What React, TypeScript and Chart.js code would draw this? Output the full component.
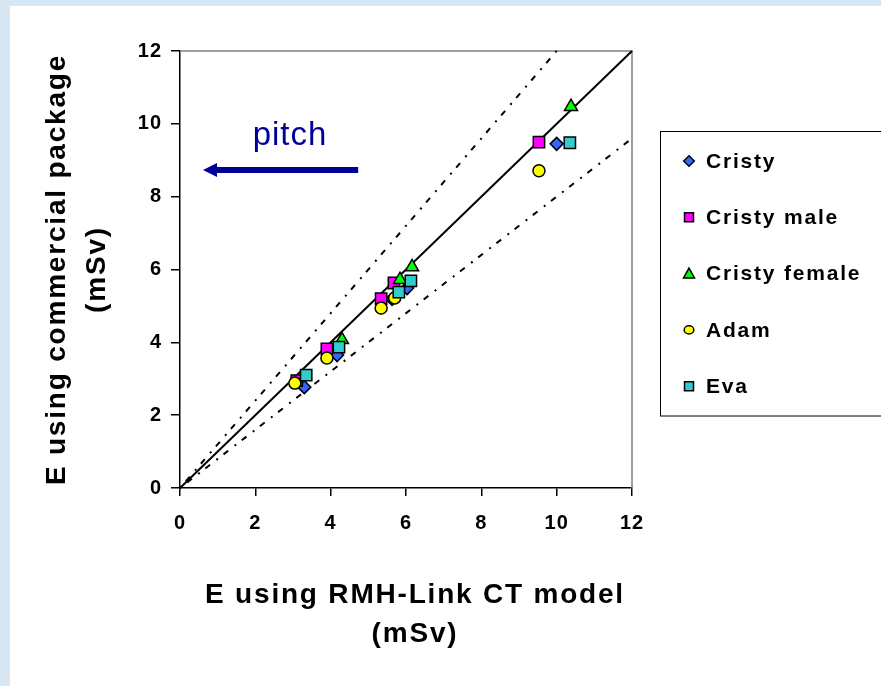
import React, { useEffect, useRef } from 'react';
import { Chart, registerables } from 'chart.js';

Chart.register(...registerables);

// ---- data ----
const seriesNames = ['Cristy', 'Cristy male', 'Cristy female', 'Adam', 'Eva'];
const seriesColors = ['#3366FF', '#FF00FF', '#00FF00', '#FFFF00', '#33CCCC'];
const seriesStyles = ['rectRot', 'rect', 'triangle', 'circle', 'rect'];
const seriesRadius = [6.5, 8, 7.5, 6, 8];

const cristyX = [3.3, 4.17, 5.63, 6.03, 10.0];
const cristyY = [2.77, 3.65, 5.19, 5.49, 9.45];
const cristyMaleX = [3.1, 3.9, 5.34, 5.68, 9.53];
const cristyMaleY = [2.95, 3.82, 5.2, 5.63, 9.5];
const cristyFemaleX = [4.3, 5.84, 6.16, 10.38];
const cristyFemaleY = [4.07, 5.72, 6.07, 10.47];
const adamX = [3.05, 3.9, 5.34, 5.7, 9.53];
const adamY = [2.88, 3.57, 4.94, 5.22, 8.71];
const evaX = [3.35, 4.22, 5.81, 6.13, 10.35];
const evaY = [3.1, 3.87, 5.38, 5.69, 9.48];

const seriesXs = [cristyX, cristyMaleX, cristyFemaleX, adamX, evaX];
const seriesYs = [cristyY, cristyMaleY, cristyFemaleY, adamY, evaY];

// reference lines (endpoints)
const identityLineX = [0, 12];
const identityLineY = [0, 12];
const upperLineX = [0, 10.1];
const upperLineY = [0, 12.12];
const lowerLineX = [0, 12];
const lowerLineY = [0, 9.6];

const axisMin = 0;
const axisMax = 12;
const tickStep = 2;

const xTitleLines = ['E using RMH-Link CT model', '(mSv)'];
const yTitleLines = ['E using commercial package', '(mSv)'];
const annotationText = 'pitch';
const annotationTextPos = [2.92, 9.42];
const arrowFrom = [4.73, 8.73];
const arrowTo = [0.61, 8.73];

const FONT = '"Liberation Sans", Arial, Helvetica, sans-serif';

function toPts(xs: number[], ys: number[]) {
  return xs.map((x, i) => ({ x, y: ys[i] }));
}

function drawMarker(ctx: CanvasRenderingContext2D, style: string, x: number, y: number, r: number, color: string) {
  ctx.save();
  ctx.fillStyle = color;
  ctx.strokeStyle = '#000';
  ctx.lineWidth = 1.5;
  ctx.beginPath();
  if (style === 'rectRot') {
    ctx.moveTo(x - r, y);
    ctx.lineTo(x, y - r);
    ctx.lineTo(x + r, y);
    ctx.lineTo(x, y + r);
    ctx.closePath();
  } else if (style === 'rect') {
    ctx.rect(x - r, y - r, 2 * r, 2 * r);
  } else if (style === 'triangle') {
    ctx.moveTo(x, y - r);
    ctx.lineTo(x + r, y + r * 0.8);
    ctx.lineTo(x - r, y + r * 0.8);
    ctx.closePath();
  } else {
    ctx.ellipse(x, y, r, r * 0.85, 0, 0, Math.PI * 2);
  }
  ctx.fill();
  ctx.stroke();
  ctx.restore();
}

const decorPlugin = {
  id: 'decor',
  beforeLayout(chart: any) {
    chart.ctx.letterSpacing = '1px';
  },
  beforeDraw(chart: any) {
    chart.ctx.letterSpacing = '1px';
  },
  beforeDatasetsDraw(chart: any) {
    const { ctx, chartArea: a } = chart;
    ctx.save();
    ctx.strokeStyle = '#808080';
    ctx.lineWidth = 1.5;
    ctx.beginPath();
    ctx.moveTo(a.left, a.top);
    ctx.lineTo(a.right, a.top);
    ctx.lineTo(a.right, a.bottom);
    ctx.stroke();
    ctx.restore();
  },
  afterDraw(chart: any) {
    const { ctx, chartArea: a, scales } = chart;
    const xs = scales.x;
    const ys = scales.y;
    ctx.save();
    // axis titles
    ctx.fillStyle = '#000';
    ctx.font = `bold 28px ${FONT}`;
    ctx.letterSpacing = '1.8px';
    ctx.textAlign = 'center';
    ctx.textBaseline = 'alphabetic';
    const cx = (a.left + a.right) / 2 + 9;
    ctx.fillText(xTitleLines[0], cx, 597);
    ctx.fillText(xTitleLines[1], cx, 636);

    const cy = (a.top + a.bottom) / 2;
    ctx.save();
    ctx.translate(47, cy);
    ctx.rotate(-Math.PI / 2);
    ctx.textBaseline = 'middle';
    ctx.fillText(yTitleLines[0], 0, 0);
    ctx.restore();
    ctx.save();
    ctx.translate(87, cy);
    ctx.rotate(-Math.PI / 2);
    ctx.textBaseline = 'middle';
    ctx.fillText(yTitleLines[1], 0, 0);
    ctx.restore();

    // annotation
    ctx.fillStyle = '#000099';
    ctx.strokeStyle = '#000099';
    ctx.font = `33px ${FONT}`;
    ctx.letterSpacing = '1px';
    ctx.textAlign = 'center';
    ctx.textBaseline = 'alphabetic';
    ctx.fillText(annotationText, xs.getPixelForValue(annotationTextPos[0]), ys.getPixelForValue(annotationTextPos[1]));
    const ax0 = xs.getPixelForValue(arrowFrom[0]);
    const ay = ys.getPixelForValue(arrowFrom[1]);
    const ax1 = xs.getPixelForValue(arrowTo[0]);
    ctx.lineWidth = 6;
    ctx.beginPath();
    ctx.moveTo(ax0, ay);
    ctx.lineTo(ax1 + 12, ay);
    ctx.stroke();
    ctx.beginPath();
    ctx.moveTo(ax1, ay);
    ctx.lineTo(ax1 + 14, ay - 7);
    ctx.lineTo(ax1 + 14, ay + 7);
    ctx.closePath();
    ctx.fill();

    // legend
    ctx.letterSpacing = '1.8px';
    ctx.strokeStyle = '#000';
    ctx.lineWidth = 1;
    ctx.strokeRect(650.5, 125.5, 260, 284.5);
    ctx.font = `bold 21px ${FONT}`;
    ctx.fillStyle = '#000';
    ctx.textAlign = 'left';
    ctx.textBaseline = 'middle';
    const legendR = [5.3, 4.5, 5.5, 4.8, 4.5];
    seriesNames.forEach((name, i) => {
      const y = 155 + i * 56.3;
      drawMarker(ctx, seriesStyles[i], 679, y, legendR[i], seriesColors[i]);
      ctx.fillText(name, 696, y + 1);
    });
    ctx.restore();
  },
};

export default function App() {
  const canvasRef = useRef<HTMLCanvasElement | null>(null);

  useEffect(() => {
    const canvas = canvasRef.current;
    if (!canvas) return;

    const scatterSets = seriesNames.map((name, i) => ({
      type: 'scatter' as const,
      label: name,
      data: toPts(seriesXs[i], seriesYs[i]),
      pointStyle: seriesStyles[i],
      pointRadius: seriesRadius[i],
      pointHoverRadius: seriesRadius[i],
      backgroundColor: seriesColors[i],
      borderColor: '#000',
      borderWidth: 1.5,
      order: seriesNames.length - i,
    }));

    const lineSets = [
      { label: 'identity', data: toPts(identityLineX, identityLineY), borderDash: [] as number[] },
      { label: 'upper', data: toPts(upperLineX, upperLineY), borderDash: [2, 7, 6, 8] },
      { label: 'lower', data: toPts(lowerLineX, lowerLineY), borderDash: [2, 7, 6, 8] },
    ].map((d) => ({
      type: 'scatter' as const,
      label: d.label,
      data: d.data,
      showLine: true,
      borderColor: '#000',
      borderWidth: 2,
      borderDash: d.borderDash,
      pointRadius: 0,
      pointHoverRadius: 0,
      fill: false,
      clip: false as any,
      order: 20,
    }));

    const tickFont = { family: FONT, size: 20, weight: 'bold' as const };

    const chart = new Chart(canvas, {
      type: 'scatter',
      data: { datasets: [...scatterSets, ...lineSets] as any },
      options: {
        responsive: false,
        animation: false,
        devicePixelRatio: 1,
        layout: { padding: { left: 0, top: 45, right: 249, bottom: 0 } },
        plugins: {
          legend: { display: false },
          tooltip: { enabled: false },
        },
        scales: {
          x: {
            type: 'linear',
            min: axisMin,
            max: axisMax,
            ticks: { stepSize: tickStep, color: '#000', font: tickFont, padding: 15, maxRotation: 0 },
            grid: { drawOnChartArea: false, drawTicks: true, tickLength: 8, color: '#000', lineWidth: 1.5 },
            border: { color: '#000', width: 1.5 },
            afterFit: (s: any) => {
              s.height = 198;
            },
          },
          y: {
            type: 'linear',
            min: axisMin,
            max: axisMax,
            ticks: { stepSize: tickStep, color: '#000', font: tickFont, padding: 9 },
            grid: { drawOnChartArea: false, drawTicks: true, tickLength: 9, color: '#000', lineWidth: 1.5 },
            border: { color: '#000', width: 1.5 },
            afterFit: (s: any) => {
              s.width = 170;
            },
          },
        },
      },
      plugins: [decorPlugin],
    });

    return () => chart.destroy();
  }, []);

  return (
    <div style={{ position: 'fixed', left: 0, top: 0, width: 881, height: 686, background: '#d6e6f2', overflow: 'hidden' }}>
      <div style={{ position: 'absolute', left: 10, top: 6, width: 871, height: 680, background: '#ffffff' }}>
        <canvas ref={canvasRef} width={871} height={680} style={{ display: 'block', width: 871, height: 680 }} />
      </div>
    </div>
  );
}
